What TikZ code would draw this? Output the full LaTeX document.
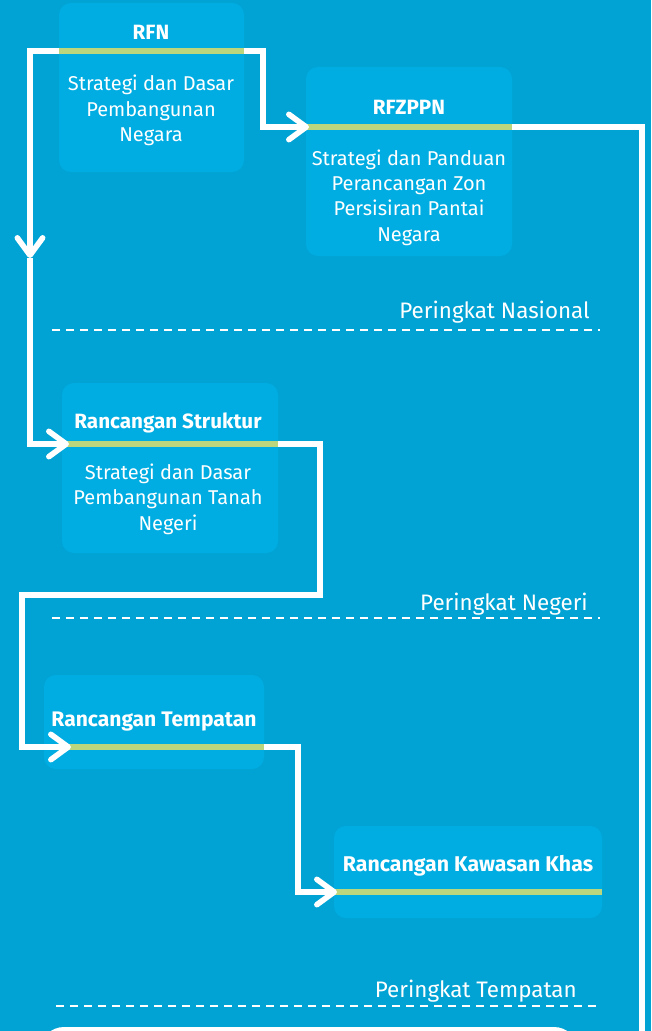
\documentclass[tikz,border=0pt]{standalone}
\usepackage{fontspec}
\setmainfont{Fira Sans}
\usetikzlibrary{arrows.meta,fit}
\definecolor{bg}{HTML}{00A3D4}
\definecolor{boxc}{HTML}{00ADE2}
\definecolor{grn}{HTML}{BCD67E}
\tikzset{
 box/.style={fill=boxc, rounded corners=9pt, inner sep=0pt, draw=none},
 ttl/.style={text=white, anchor=base, inner sep=0pt, font=\bfseries\fontsize{15.5}{18}\selectfont},
 body/.style={text=white, align=center, inner sep=0pt, font=\fontsize{15}{19}\selectfont},
 level/.style={text=white, anchor=base east, inner sep=0pt, font=\fontsize{16.8}{19}\selectfont},
 gline/.style={draw=grn, line width=4.5pt},
 conn/.style={draw=white, line width=4.2pt, line join=miter, -{Straight Barb[length=13pt,width=19pt,round]}},
 plainconn/.style={draw=white, line width=4.2pt, line join=miter},
 dline/.style={draw=white, line width=1.5pt, dash pattern=on 6pt off 4.5pt},
}
\begin{document}
\begin{tikzpicture}[x=0.75pt,y=-0.75pt]
\fill[bg] (0,0) rectangle (651,1031);
\useasboundingbox (0,0) rectangle (651,1031);

% boxes
\node[box, fit={(59,3) (244,172)}] (rfn) {};
\node[box, fit={(306,67) (512,256)}] (rfz) {};
\node[box, fit={(62,383) (278,553)}] (rs) {};
\node[box, fit={(44,675) (264,769)}] (rt) {};
\node[box, fit={(334,826) (602,918)}] (rk) {};

% bottom white shape
\fill[white, rounded corners=18pt] (40,1027) rectangle (578,1090);

% green bars
\coordinate (rfnL) at (59,51);  \coordinate (rfnR) at (244,51);
\coordinate (rfzL) at (306,127); \coordinate (rfzR) at (512,127);
\coordinate (rsL) at (62,444);  \coordinate (rsR) at (278,444);
\coordinate (rtL) at (44,747);  \coordinate (rtR) at (264,747);
\coordinate (rkL) at (334,892); \coordinate (rkR) at (602,892);
\draw[gline] (rfnL) -- (rfnR);
\draw[gline] (rfzL) -- (rfzR);
\draw[gline] (rsL) -- (rsR);
\draw[gline] (rtL) -- (rtR);
\draw[gline] (rkL) -- (rkR);

% titles
\node[ttl] (t1) at (151,40) {RFN};
\node[ttl] (t2) at (409,114) {RFZPPN};
\node[ttl] (t3) at (168,428) {Rancangan Struktur};
\node[ttl, font=\bfseries\fontsize{15.8}{18}\selectfont] (t4) at (154,726) {Rancangan Tempatan};
\node[ttl, font=\bfseries\fontsize{16}{18}\selectfont] (t5) at (468,871) {Rancangan Kawasan Khas};

% bodies
\node[body] (b1) at (151,110.5) {Strategi dan Dasar\\Pembangunan\\Negara};
\node[body] (b2) at (409,197.5) {Strategi dan Panduan\\Perancangan Zon\\Persisiran Pantai\\Negara};
\node[body] (b3) at (168,499) {Strategi dan Dasar\\Pembangunan Tanah\\Negeri};

% level labels and dashed separators
\node[level] (l1) at (590,318) {Peringkat Nasional};
\node[level] (l2) at (588,610) {Peringkat Negeri};
\node[level] (l3) at (577,997) {Peringkat Tempatan};
\coordinate (d1a) at (52,330); \coordinate (d1b) at (600,330);
\coordinate (d2a) at (52,618); \coordinate (d2b) at (600,618);
\coordinate (d3a) at (56,1006); \coordinate (d3b) at (601,1006);
\draw[dline] (d1a) -- (d1b);
\draw[dline] (d2a) -- (d2b);
\draw[dline] (d3a) -- (d3b);

% connectors
\coordinate (mid) at (30,258);
\coordinate (rsA) at (69,444);
\coordinate (rtA) at (71,747);
\coordinate (rfzA) at (309,127);
\coordinate (rkA) at (337,892);
\coordinate (endB) at (642,1031);
\draw[conn] (rfnL) -| (mid);
\draw[conn] (mid) |- (rsA);
\draw[conn] (rfnR) -- ++(19,0) |- (rfzA);
\draw[plainconn] (rfzR) -| (endB);
\draw[conn] (rsR) -| (320,595) -| (22,700) |- (rtA);
\draw[conn] (rtR) -- ++(34,0) |- (rkA);
\end{tikzpicture}
\end{document}
